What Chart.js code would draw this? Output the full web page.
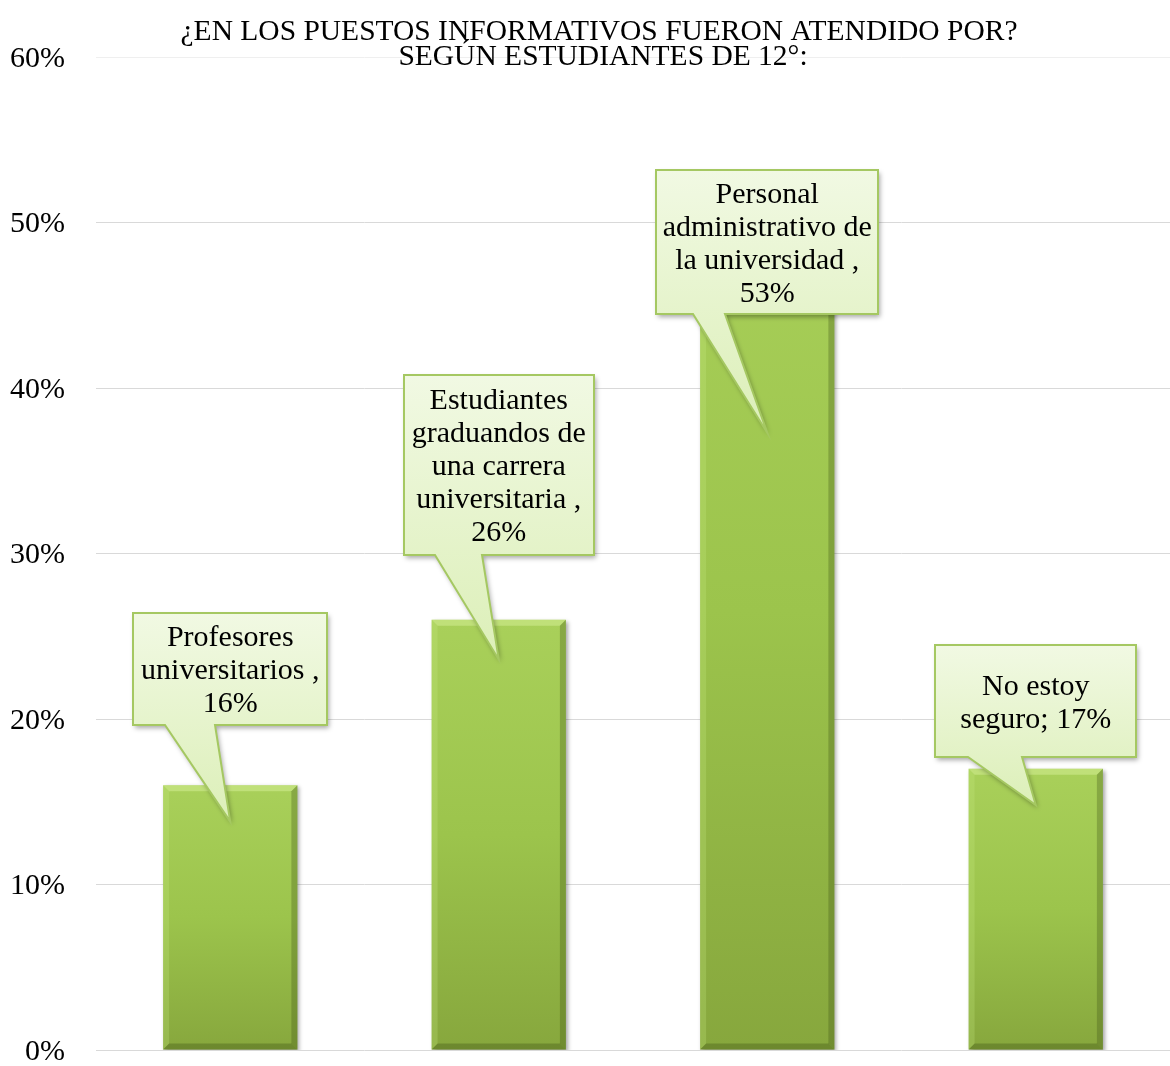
<!DOCTYPE html>
<html>
<head>
<meta charset="utf-8">
<script src="https://cdn.jsdelivr.net/npm/chart.js@4.4.1/dist/chart.umd.min.js"></script>
<style>
  html, body { margin: 0; padding: 0; background: #fff; overflow: hidden; }
  canvas { display: block; }
</style>
</head>
<body>
<canvas id="barChart" width="1170" height="1066"></canvas>
<script>
var categories = ["Profesores universitarios", "Estudiantes graduandos de una carrera universitaria", "Personal administrativo de la universidad", "No estoy seguro"];
var values = [16, 26, 53, 17];
var yTicks = [0, 10, 20, 30, 40, 50, 60];
var titleLines = ["¿EN LOS PUESTOS INFORMATIVOS FUERON ATENDIDO POR?", "SEGÚN ESTUDIANTES DE 12°:"];
// callout text as wrapped in the picture
var labelLines = [
  ["Profesores", "universitarios ,", values[0] + "%"],
  ["Estudiantes", "graduandos de", "una carrera", "universitaria ,", values[1] + "%"],
  ["Personal", "administrativo de", "la universidad ,", values[2] + "%"],
  ["No estoy", "seguro; " + values[3] + "%"]
];

// callout placement (top/bottom/tip in axis units, widths in px)
var calloutLayout = [
  { top: 26.4, bottom: 19.65, tip: 13.8, width: 194, tailL: 32, tailR: 82 },
  { top: 40.8, bottom: 29.9, tip: 23.6, width: 190, tailL: 31, tailR: 78 },
  { top: 53.2, bottom: 44.5, tip: 37.3, width: 222, tailL: 37, tailR: 69 },
  { top: 24.5, bottom: 17.7, tip: 14.8, width: 201, tailL: 33, tailR: 87 }
];

var serif = "'Liberation Serif', 'Times New Roman', serif";

function barGradient(context) {
  var chart = context.chart;
  var y = chart.scales.y;
  if (!y || context.raw === undefined) return "#9bc24b";
  var top = y.getPixelForValue(context.raw);
  var base = y.getPixelForValue(0);
  if (!isFinite(top) || !isFinite(base) || top === base) return "#9bc24b";
  var g = chart.ctx.createLinearGradient(0, top, 0, base);
  g.addColorStop(0, "#a9d05a");
  g.addColorStop(0.5, "#9cc44c");
  g.addColorStop(1, "#87a73d");
  return g;
}

var decorPlugin = {
  id: "decor",
  beforeDatasetsDraw: function(chart) {
    var ctx = chart.ctx;
    ctx.save();
    ctx.shadowColor = "rgba(0,0,0,0.35)";
    ctx.shadowBlur = 4;
    ctx.shadowOffsetX = 2;
    ctx.shadowOffsetY = 2;
  },
  afterDatasetsDraw: function(chart) {
    var ctx = chart.ctx;
    ctx.restore();
    var meta = chart.getDatasetMeta(0);
    var y = chart.scales.y;

    // bevel on bars
    meta.data.forEach(function(bar) {
      var l = bar.x - bar.width / 2, r = bar.x + bar.width / 2;
      var t = bar.y, b = bar.base;
      var e = 6;
      ctx.save();
      ctx.fillStyle = "rgba(220,245,160,0.45)";
      ctx.beginPath();
      ctx.moveTo(l, t); ctx.lineTo(r, t); ctx.lineTo(r - e, t + e); ctx.lineTo(l + e, t + e); ctx.closePath();
      ctx.fill();
      ctx.fillStyle = "rgba(200,235,130,0.25)";
      ctx.beginPath();
      ctx.moveTo(l, t); ctx.lineTo(l + e, t + e); ctx.lineTo(l + e, b - e); ctx.lineTo(l, b); ctx.closePath();
      ctx.fill();
      ctx.fillStyle = "rgba(60,80,20,0.30)";
      ctx.beginPath();
      ctx.moveTo(r, t); ctx.lineTo(r, b); ctx.lineTo(r - e, b - e); ctx.lineTo(r - e, t + e); ctx.closePath();
      ctx.fill();
      ctx.fillStyle = "rgba(60,80,20,0.35)";
      ctx.beginPath();
      ctx.moveTo(l, b); ctx.lineTo(r, b); ctx.lineTo(r - e, b - e); ctx.lineTo(l + e, b - e); ctx.closePath();
      ctx.fill();
      ctx.restore();
    });

    // callouts
    meta.data.forEach(function(bar, i) {
      var c = calloutLayout[i];
      var cx = bar.x;
      var bl = Math.round(cx - c.width / 2), br = bl + c.width;
      var bt = Math.round(y.getPixelForValue(c.top));
      var bb = Math.round(y.getPixelForValue(c.bottom));
      var tipY = y.getPixelForValue(c.tip);

      ctx.save();
      ctx.beginPath();
      ctx.moveTo(bl, bt);
      ctx.lineTo(br, bt);
      ctx.lineTo(br, bb);
      ctx.lineTo(bl + c.tailR, bb);
      ctx.lineTo(cx, tipY);
      ctx.lineTo(bl + c.tailL, bb);
      ctx.lineTo(bl, bb);
      ctx.closePath();
      var g = ctx.createLinearGradient(0, bt, 0, tipY);
      g.addColorStop(0, "#f1f9e3");
      g.addColorStop(1, "#dcefb8");
      ctx.fillStyle = g;
      ctx.shadowColor = "rgba(0,0,0,0.35)";
      ctx.shadowBlur = 5;
      ctx.shadowOffsetX = 2;
      ctx.shadowOffsetY = 3;
      ctx.fill();
      ctx.shadowColor = "transparent";
      ctx.lineWidth = 2;
      ctx.strokeStyle = "#a5c862";
      ctx.lineJoin = "miter";
      ctx.stroke();

      var lines = labelLines[i];
      var lh = 33;
      var startY = (bt + bb) / 2 - (lines.length - 1) * lh / 2 + 10;
      ctx.fillStyle = "#000";
      ctx.font = "30px " + serif;
      ctx.textAlign = "center";
      ctx.textBaseline = "alphabetic";
      lines.forEach(function(txt, k) {
        ctx.fillText(txt, cx, startY + k * lh);
      });
      ctx.restore();
    });
  },
  afterDraw: function(chart) {
    var ctx = chart.ctx;
    ctx.save();
    ctx.fillStyle = "#000";
    ctx.font = "29.5px " + serif;
    ctx.textAlign = "center";
    ctx.textBaseline = "alphabetic";
    ctx.fillText(titleLines[0], 599, 40);
    ctx.fillText(titleLines[1], 603, 65);
    ctx.restore();
  }
};

var chart = new Chart(document.getElementById("barChart"), {
  type: "bar",
  data: {
    labels: categories,
    datasets: [{
      label: "Porcentaje",
      data: values,
      backgroundColor: barGradient,
      borderWidth: 0,
      barPercentage: 0.5,
      categoryPercentage: 1.0
    }]
  },
  options: {
    responsive: false,
    animation: false,
    devicePixelRatio: 1,
    layout: { padding: { top: 57, bottom: 16, left: 0, right: 0 } },
    plugins: {
      legend: { display: false },
      tooltip: { enabled: false },
      title: { display: false }
    },
    scales: {
      x: { display: false },
      y: {
        min: 0,
        max: 60,
        afterBuildTicks: function(axis) {
          axis.ticks = yTicks.map(function(v) { return { value: v }; });
        },
        afterFit: function(axis) {
          axis.width = 96;
          axis.paddingTop = 0;
          axis.paddingBottom = 0;
        },
        border: { display: false },
        grid: {
          color: function(ctx) { return ctx.tick && ctx.tick.value === 60 ? "#efefef" : "#d9d9d9"; },
          lineWidth: 1,
          drawTicks: false
        },
        ticks: {
          padding: 31,
          labelOffset: 2,
          color: "#000",
          font: { family: serif, size: 30 },
          callback: function(v) { return v + "%"; }
        }
      }
    }
  },
  plugins: [decorPlugin]
});
</script>
</body>
</html>
